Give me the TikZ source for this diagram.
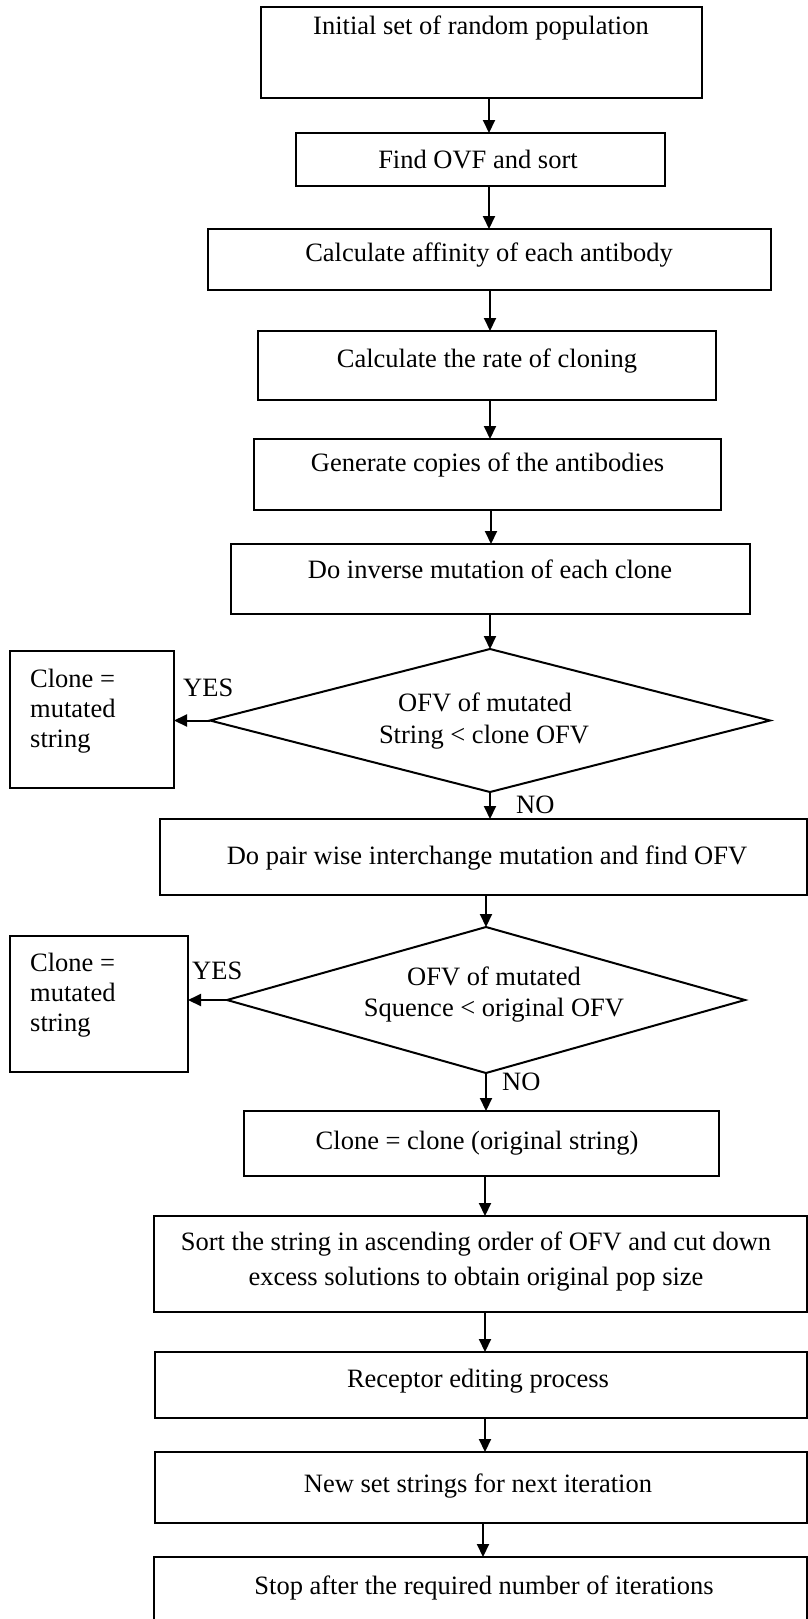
\documentclass[tikz,border=0pt]{standalone}
\usepackage{fontspec}
\setmainfont{Liberation Serif}
\usetikzlibrary{shapes.geometric,arrows.meta}
\begin{document}
\begin{tikzpicture}[x=1pt,y=-1pt,
  box/.style={draw,line width=1.3pt,inner sep=0pt,outer sep=0pt},
  dia/.style={draw,diamond,line width=2pt,inner sep=0pt,outer sep=0pt},
  txt/.style={inner sep=0pt,anchor=base,font=\fontsize{26.5pt}{30.5pt}\selectfont},
  ltxt/.style={txt,anchor=base west},
  arr/.style={line width=2pt,-{Triangle[length=13pt,width=12pt]}}]
\useasboundingbox (0,0) rectangle (808,1619);

% boxes
\node[box,minimum width=441pt,minimum height=91pt] (b1) at (481.5,52.5) {};
\node[box,minimum width=369pt,minimum height=53pt] (b2) at (480.5,159.5) {};
\node[box,minimum width=563pt,minimum height=61pt] (b3) at (489.5,259.5) {};
\node[box,minimum width=458pt,minimum height=69pt] (b4) at (487,365.5) {};
\node[box,minimum width=467pt,minimum height=71pt] (b5) at (487.5,474.5) {};
\node[box,minimum width=519pt,minimum height=70pt] (b6) at (490.5,579) {};
\node[dia,minimum width=560pt,minimum height=143pt] (d1) at (490,720.5) {};
\node[box,minimum width=164pt,minimum height=137pt] (c1) at (92,719.5) {};
\node[box,minimum width=647pt,minimum height=76pt] (b7) at (483.5,857) {};
\node[dia,minimum width=518pt,minimum height=146pt] (d2) at (486,1000) {};
\node[box,minimum width=178pt,minimum height=136pt] (c2) at (99,1004) {};
\node[box,minimum width=475pt,minimum height=65pt] (b8) at (481.5,1143.5) {};
\node[box,minimum width=653pt,minimum height=96pt] (b9) at (480.5,1264) {};
\node[box,minimum width=652pt,minimum height=66pt] (b10) at (481,1385) {};
\node[box,minimum width=652pt,minimum height=71pt] (b11) at (481,1487.5) {};
\node[box,minimum width=653pt,minimum height=83pt] (b12) at (480.5,1598.5) {};

% texts
\node[txt] (t1) at (481,35) {Initial set of random population};
\node[txt] (t2) at (478,168) {Find OVF and sort};
\node[txt] (t3) at (489,261) {Calculate affinity of each antibody};
\node[txt] (t4) at (487,367) {Calculate the rate of cloning};
\node[txt] (t5) at (487.5,471) {Generate copies of the antibodies};
\node[txt] (t6) at (490,578) {Do inverse mutation of each clone};
\node[txt] (d1a) at (485,711) {OFV of mutated};
\node[txt] (d1b) at (484,743) {String < clone OFV};
\node[ltxt] (c1a) at (30,687) {Clone =};
\node[ltxt] (c1b) at (30,717) {mutated};
\node[ltxt] (c1c) at (30,747) {string};
\node[ltxt] (yes1) at (183,696) {YES};
\node[ltxt] (no1) at (516,813) {NO};
\node[txt] (t7) at (487,864) {Do pair wise interchange mutation and find OFV};
\node[txt] (d2a) at (494,985) {OFV of mutated};
\node[txt] (d2b) at (494,1016) {Squence < original OFV};
\node[ltxt] (c2a) at (30,971) {Clone =};
\node[ltxt] (c2b) at (30,1001) {mutated};
\node[ltxt] (c2c) at (30,1031) {string};
\node[ltxt] (yes2) at (192,979) {YES};
\node[ltxt] (no2) at (502,1090) {NO};
\node[txt] (t8) at (477,1149) {Clone = clone (original string)};
\node[txt] (t9a) at (476,1250) {Sort the string in ascending order of OFV and cut down};
\node[txt] (t9b) at (476,1285) {excess solutions to obtain original pop size};
\node[txt] (t10) at (478,1387) {Receptor editing process};
\node[txt] (t11) at (478,1492) {New set strings for next iteration};
\node[txt] (t12) at (484,1594) {Stop after the required number of iterations};

% arrow columns
\coordinate (k1) at (489,0);
\coordinate (k2) at (490,0);
\coordinate (k3) at (491,0);
\coordinate (k4) at (485,0);
\coordinate (k5) at (483,0);

% connectors
\draw[arr] (b1.south -| k1) -- (b2.north -| k1);
\draw[arr] (b2.south -| k1) -- (b3.north -| k1);
\draw[arr] (b3.south -| k2) -- (b4.north -| k2);
\draw[arr] (b4.south -| k2) -- (b5.north -| k2);
\draw[arr] (b5.south -| k3) -- (b6.north -| k3);
\draw[arr] (b6.south -| d1.north) -- (d1.north);
\draw[arr] (d1.west) -- (d1.west -| c1.east);
\draw[arr] (d1.south) -- (d1.south |- b7.north);
\draw[arr] (b7.south -| d2.north) -- (d2.north);
\draw[arr] (d2.west) -- (d2.west -| c2.east);
\draw[arr] (d2.south) -- (d2.south |- b8.north);
\draw[arr] (b8.south -| k4) -- (b9.north -| k4);
\draw[arr] (b9.south -| k4) -- (b10.north -| k4);
\draw[arr] (b10.south -| k4) -- (b11.north -| k4);
\draw[arr] (b11.south -| k5) -- (b12.north -| k5);
\end{tikzpicture}
\end{document}
